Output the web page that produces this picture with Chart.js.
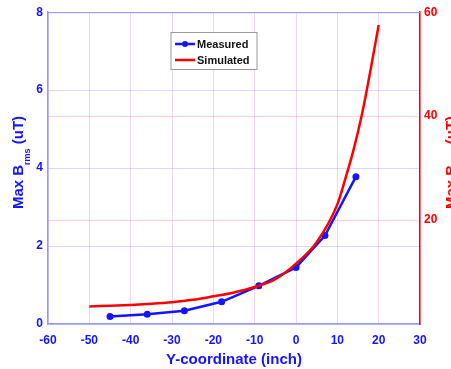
<!DOCTYPE html>
<html>
<head>
<meta charset="utf-8">
<script src="https://cdn.jsdelivr.net/npm/chart.js@4.4.1/dist/chart.umd.min.js"></script>
<style>
  html, body { margin: 0; padding: 0; background: #fff; overflow: hidden; }
  #wrap { width: 451px; height: 369px; }
</style>
</head>
<body>
<div id="wrap"><canvas id="chart"></canvas></div>
<script>
// データ
const measuredX = [-45, -36, -27, -18, -9, 0, 7, 14.5];
const measuredY = [0.19, 0.25, 0.34, 0.57, 0.98, 1.45, 2.27, 3.78];
const simulatedX = [-50, -45, -40, -35, -30, -25, -20, -15, -10, -5, 0, 5, 10, 12, 14, 16, 18, 20];
const simulatedY = [0.45, 0.47, 0.49, 0.52, 0.56, 0.62, 0.71, 0.81, 0.95, 1.15, 1.55, 2.1, 3.07, 3.75, 4.5, 5.4, 6.5, 7.67];
const xTicks = [-60, -50, -40, -30, -20, -10, 0, 10, 20, 30];
const leftTicks = [0, 2, 4, 6, 8];
const rightTicks = [20, 40, 60];

const BLUE = 'rgb(20,20,255)';
const RED = 'rgb(255,0,0)';
const FONT = '"Liberation Sans", Arial, sans-serif';

// 軸タイトルと凡例
const decorations = {
    id: 'decorations',
    afterDraw(chart) {
        const c = chart.ctx;
        const a = chart.chartArea;

        // 上枠
        c.save();
        c.strokeStyle = 'rgb(150,150,255)';
        c.lineWidth = 1;
        c.beginPath();
        c.moveTo(a.left, a.top + 0.5);
        c.lineTo(a.right, a.top + 0.5);
        c.stroke();
        c.restore();

        function yTitle(x, cy, color) {
            c.save();
            c.translate(x, cy);
            c.rotate(-Math.PI / 2);
            c.fillStyle = color;
            c.textBaseline = 'alphabetic';
            c.textAlign = 'left';
            const big = 'bold 15px ' + FONT;
            const small = 'bold 9px ' + FONT;
            c.font = big;
            const w1 = c.measureText('Max B').width;
            const w3 = c.measureText(' (uT)').width;
            c.font = small;
            const w2 = c.measureText('rms').width;
            let px = -(w1 + w2 + w3) / 2;
            c.font = big;
            c.fillText('Max B', px, 0);
            px += w1;
            c.font = small;
            c.fillText('rms', px, 7);
            px += w2;
            c.font = big;
            c.fillText(' (uT)', px, 0);
            c.restore();
        }
        yTitle(22.5, 162.5, BLUE);
        yTitle(455.5, 162.5, RED);

        // x軸タイトル
        c.save();
        c.fillStyle = BLUE;
        c.font = 'bold 15px ' + FONT;
        c.textAlign = 'center';
        c.textBaseline = 'middle';
        c.fillText('Y-coordinate (inch)', (a.left + a.right) / 2, 360);
        c.restore();

        // 凡例
        c.save();
        c.fillStyle = '#fff';
        c.fillRect(171, 32.5, 86, 37);
        c.strokeStyle = '#999';
        c.lineWidth = 1;
        c.strokeRect(171, 32.5, 86, 37);
        c.lineWidth = 2.5;
        c.strokeStyle = BLUE;
        c.beginPath(); c.moveTo(175, 44); c.lineTo(195, 44); c.stroke();
        c.fillStyle = BLUE;
        c.beginPath(); c.arc(185, 44, 3, 0, Math.PI * 2); c.fill();
        c.strokeStyle = RED;
        c.beginPath(); c.moveTo(175, 60); c.lineTo(195, 60); c.stroke();
        c.fillStyle = '#111';
        c.font = 'bold 11px ' + FONT;
        c.textBaseline = 'middle';
        c.textAlign = 'left';
        c.fillText('Measured', 197, 44.5);
        c.fillText('Simulated', 197, 60.5);
        c.restore();
    }
};

const ctx = document.getElementById('chart').getContext('2d');
const chart = new Chart(ctx, {
    type: 'line',
    data: {
        datasets: [{
            label: 'Simulated',
            data: simulatedX.map((x, i) => ({ x: x, y: simulatedY[i] })),
            borderColor: RED,
            borderWidth: 2.5,
            pointRadius: 0,
            tension: 0.4,
            cubicInterpolationMode: 'monotone',
            yAxisID: 'y'
        }, {
            label: 'Measured',
            data: measuredX.map((x, i) => ({ x: x, y: measuredY[i] })),
            borderColor: BLUE,
            backgroundColor: BLUE,
            borderWidth: 2.5,
            pointRadius: 3.5,
            pointBorderWidth: 0,
            tension: 0,
            yAxisID: 'y'
        }]
    },
    options: {
        responsive: true,
        maintainAspectRatio: false,
        animation: false,
        layout: { padding: { top: 10, left: 0, right: 0, bottom: 0 } },
        plugins: {
            legend: { display: false },
            tooltip: { enabled: false }
        },
        scales: {
            x: {
                type: 'linear',
                min: -60,
                max: 30,
                afterBuildTicks: s => { s.ticks = xTicks.map(v => ({ value: v })); },
                afterFit: s => { s.height = 45; },
                grid: { color: 'rgba(200,140,200,0.35)', drawTicks: false },
                border: { color: 'rgb(150,150,255)', width: 1.5 },
                ticks: { color: BLUE, font: { family: FONT, weight: 'bold', size: 12 }, padding: 9 }
            },
            y: {
                position: 'left',
                min: 0,
                max: 8,
                afterBuildTicks: s => { s.ticks = leftTicks.map(v => ({ value: v })); },
                afterFit: s => { s.width = 48; },
                grid: { color: 'rgba(130,130,255,0.3)', drawTicks: false },
                border: { color: 'rgb(150,150,255)', width: 1.5 },
                ticks: { color: BLUE, font: { family: FONT, weight: 'bold', size: 12 }, padding: 5 }
            },
            y2: {
                position: 'right',
                min: 0,
                max: 60,
                afterBuildTicks: s => { s.ticks = rightTicks.map(v => ({ value: v })); },
                afterFit: s => { s.width = 31; },
                grid: { color: 'rgba(255,110,110,0.3)', drawTicks: false },
                border: { color: RED, width: 1.5 },
                ticks: { color: RED, font: { family: FONT, weight: 'bold', size: 12 }, padding: 4 }
            }
        }
    },
    plugins: [decorations]
});
</script>
</body>
</html>
